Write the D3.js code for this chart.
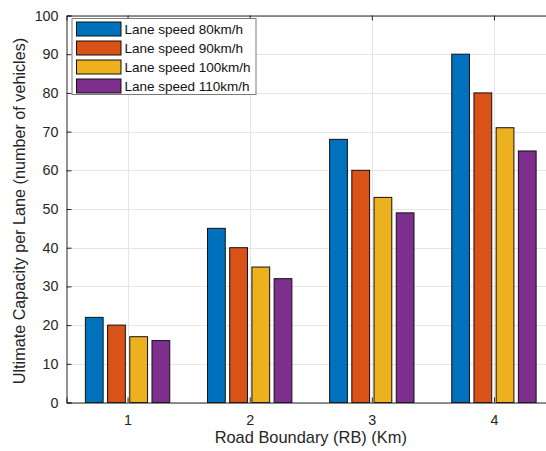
<!DOCTYPE html>
<html>
<head>
<meta charset="utf-8">
<script src="https://cdn.jsdelivr.net/npm/d3@7"></script>
<style>
html,body{margin:0;padding:0;background:#fff;overflow:hidden;}
svg{display:block;font-family:"Liberation Sans",Arial,Helvetica,sans-serif;}
</style>
</head>
<body>
<svg id="chart" width="546" height="451"></svg>
<script>
const categories = [1, 2, 3, 4];
const seriesNames = ["Lane speed 80km/h", "Lane speed 90km/h", "Lane speed 100km/h", "Lane speed 110km/h"];
const speed80 = [22, 45, 68, 90];
const speed90 = [20, 40, 60, 80];
const speed100 = [17, 35, 53, 71];
const speed110 = [16, 32, 49, 65];
const yTicks = [0, 10, 20, 30, 40, 50, 60, 70, 80, 90, 100];
const colors = ["#0072BD", "#D95319", "#EDB120", "#7E2F8E"];

const series = [speed80, speed90, speed100, speed110];

const svg = d3.select("#chart");
const L = 66.5, R = 555, T = 15.5, B = 402.5;
const axisColor = "#262626";

const x = d3.scaleLinear().domain([0.5, 4.5]).range([L, R]);
const y = d3.scaleLinear().domain([0, 100]).range([B, T]);

// grid
const grid = svg.append("g");
grid.selectAll("line.gy").data(yTicks).join("line")
  .attr("x1", L).attr("x2", R)
  .attr("y1", d => Math.round(y(d)) + 0.5).attr("y2", d => Math.round(y(d)) + 0.5)
  .attr("stroke", "#e6e6e6").attr("stroke-width", 1);
grid.selectAll("line.gx").data(categories).join("line")
  .attr("y1", T).attr("y2", B)
  .attr("x1", d => Math.round(x(d)) + 0.5).attr("x2", d => Math.round(x(d)) + 0.5)
  .attr("stroke", "#e6e6e6").attr("stroke-width", 1);

// bars
const n = series.length;
const groupWidth = Math.min(0.8, n / (n + 1.5));
const step = groupWidth / n;
const barW = step * 0.8;
series.forEach((vals, si) => {
  const off = (si - (n - 1) / 2) * step;
  svg.append("g").selectAll("rect").data(vals).join("rect")
    .attr("x", (d, i) => x(categories[i] + off - barW / 2))
    .attr("width", x(barW) - x(0))
    .attr("y", d => y(d))
    .attr("height", d => y(0) - y(d))
    .attr("fill", colors[si])
    .attr("stroke", "#111")
    .attr("stroke-width", 1);
});

// axes
const yAxis = d3.axisLeft(y).tickValues(yTicks).tickSize(-5).tickPadding(8);
const gy = svg.append("g").attr("transform", `translate(${L},0)`).call(yAxis);
const xAxis = d3.axisBottom(x).tickValues(categories).tickSize(-5).tickPadding(12).tickFormat(d3.format("d"));
const gx = svg.append("g").attr("transform", `translate(0,${B})`).call(xAxis);
const xTop = d3.axisTop(x).tickValues(categories).tickSize(-5).tickFormat("");
const gt = svg.append("g").attr("transform", `translate(0,${T})`).call(xTop);
[gy, gx, gt].forEach(g => {
  g.select(".domain").attr("stroke", axisColor).attr("stroke-width", 1);
  g.selectAll(".tick line").attr("stroke", axisColor);
  g.selectAll("text").attr("fill", axisColor).style("font-size", "14.3px")
    .style("font-family", '"Liberation Sans",Arial,sans-serif');
});

// axis labels
svg.append("text")
  .attr("x", (L + R) / 2).attr("y", 443)
  .attr("text-anchor", "middle").attr("fill", axisColor)
  .style("font-size", "16.4px")
  .text("Road Boundary (RB) (Km)");
svg.append("text")
  .attr("transform", `translate(25,${(T + B) / 2 + 2}) rotate(-90)`)
  .attr("text-anchor", "middle").attr("fill", axisColor)
  .style("font-size", "16.2px")
  .text("Ultimate Capacity per Lane (number of vehicles)");

// legend
const lg = svg.append("g");
lg.append("rect").attr("x", 72).attr("y", 18.5).attr("width", 184).attr("height", 76)
  .attr("fill", "#fff").attr("stroke", "#7a7a7a").attr("stroke-width", 1);
seriesNames.forEach((name, i) => {
  const yy = 22 + i * 19;
  lg.append("rect").attr("x", 76.5).attr("y", yy).attr("width", 44.5).attr("height", 14)
    .attr("fill", colors[i]).attr("stroke", "#111").attr("stroke-width", 1);
  lg.append("text").attr("x", 124.5).attr("y", yy + 12)
    .attr("fill", "#111").style("font-size", "13.5px").text(name);
});
</script>
</body>
</html>
